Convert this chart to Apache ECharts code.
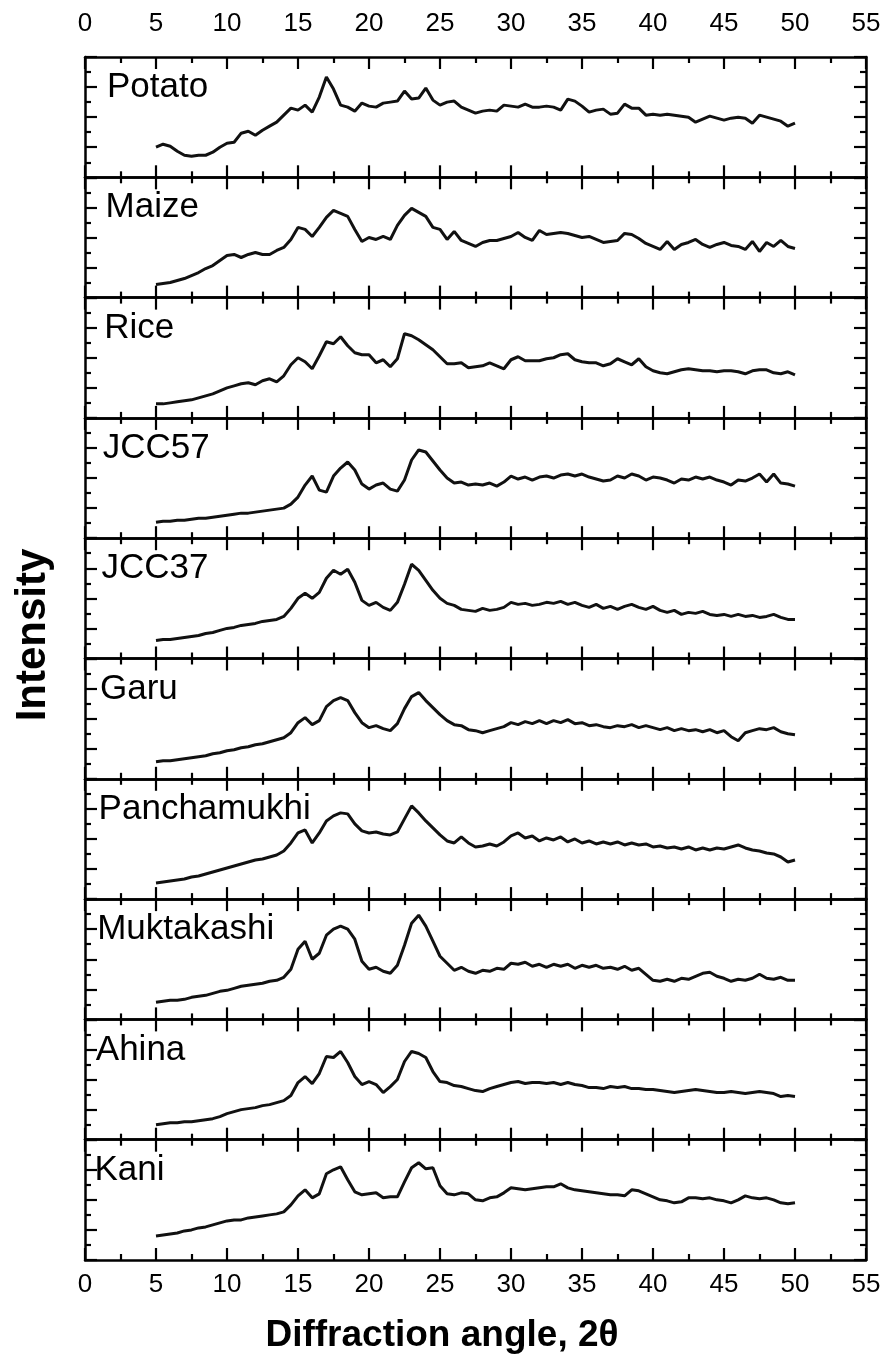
<!DOCTYPE html>
<html>
<head>
<meta charset="utf-8">
<script src="https://cdn.jsdelivr.net/npm/echarts@6/dist/echarts.min.js"></script>
<style>
html,body{margin:0;padding:0;background:#fff;}
#c{width:890px;height:1359px;}
</style>
</head>
<body>
<div id="c"></div>
<script>
// Diffraction angle, 2θ (degrees) – sampling positions of every pattern
const angles = [5,5.5,6,6.5,7,7.5,8,8.5,9,9.5,
  10,10.5,11,11.5,12,12.5,13,13.5,14,14.5,
  15,15.5,16,16.5,17,17.5,18,18.5,19,19.5,
  20,20.5,21,21.5,22,22.5,23,23.5,24,24.5,
  25,25.5,26,26.5,27,27.5,28,28.5,29,29.5,
  30,30.5,31,31.5,32,32.5,33,33.5,34,34.5,
  35,35.5,36,36.5,37,37.5,38,38.5,39,39.5,
  40,40.5,41,41.5,42,42.5,43,43.5,44,44.5,
  45,45.5,46,46.5,47,47.5,48,48.5,49,49.5,
  50];

const sampleNames = ['Potato','Maize','Rice','JCC57','JCC37','Garu','Panchamukhi','Muktakashi','Ahina','Kani'];

// Intensities (arbitrary units, panel scale 0–120)
const potato = [30,33,31,26,22,21,22,22,25,30,
  34,35,44,46,42,47,51,55,62,69,
  67,72,65,80,100,88,72,70,66,74,
  71,70,74,75,76,86,78,79,89,77,
  72,75,76,70,67,64,66,67,66,72,
  71,70,73,70,70,71,70,67,78,76,
  71,65,67,68,63,64,73,69,69,62,
  63,62,63,62,61,60,55,58,61,59,
  57,59,60,59,54,62,60,58,56,51,
  54];
const maize = [13,14,15,17,19,22,25,29,32,37,
  42,43,40,43,45,43,43,47,50,58,
  70,68,61,70,80,87,84,81,68,56,
  60,58,61,58,72,82,89,85,81,70,
  68,58,66,57,54,51,55,57,57,59,
  61,65,60,57,67,63,64,65,64,62,
  60,61,58,55,56,57,64,63,59,54,
  51,48,56,48,53,55,58,53,50,53,
  55,52,51,48,56,46,55,51,57,51,
  49];
const rice = [14,14,15,16,17,18,20,22,24,27,
  30,32,34,35,33,37,39,36,42,53,
  60,56,49,62,76,74,81,72,65,63,
  63,55,58,51,59,84,82,78,73,68,
  61,54,54,55,50,51,52,55,52,49,
  58,61,57,57,57,59,60,63,64,58,
  56,55,55,52,54,59,56,53,59,51,
  47,45,44,46,48,49,48,47,47,46,
  47,47,46,44,47,48,48,45,44,46,
  43];
const jcc57 = [16,17,17,18,18,19,20,20,21,22,
  23,24,25,25,26,27,28,29,30,34,
  41,53,62,48,46,62,70,76,68,54,
  49,53,55,49,47,58,78,88,86,77,
  68,60,55,56,53,54,53,55,52,56,
  62,59,61,58,61,62,60,63,64,62,
  64,61,59,57,58,62,60,64,62,58,
  61,60,58,55,59,58,61,59,61,58,
  56,53,58,57,60,64,56,64,55,54,
  52];
const jcc37 = [18,19,19,20,21,22,23,25,26,28,
  30,31,33,34,35,37,38,39,42,50,
  60,65,60,66,80,88,84,89,76,58,
  53,56,51,48,56,74,94,88,78,68,
  60,55,53,49,48,47,50,48,49,51,
  56,54,55,53,54,56,55,57,54,56,
  53,51,54,50,52,49,52,54,51,49,
  52,48,46,48,44,46,45,47,44,43,
  44,42,44,42,43,41,42,44,41,39,
  39];
const garu = [17,18,18,19,20,21,22,23,25,26,
  28,29,31,32,34,35,37,39,41,46,
  56,61,54,58,72,78,81,78,66,56,
  51,53,50,48,55,70,82,86,78,71,
  64,58,54,53,49,48,46,48,50,52,
  56,54,57,55,58,55,58,56,59,55,
  56,53,54,52,51,53,52,54,51,53,
  51,49,51,48,50,48,49,47,49,46,
  48,42,38,46,48,50,49,51,47,45,
  44];
const panchamukhi = [16,17,18,19,20,22,23,25,27,29,
  31,33,35,37,39,40,42,44,48,56,
  66,69,56,66,78,83,86,85,75,68,
  66,67,65,64,67,80,93,86,78,71,
  64,58,56,62,56,52,53,55,53,57,
  63,66,61,63,58,61,59,62,57,60,
  56,58,55,57,55,57,54,56,54,55,
  52,53,51,52,50,52,49,51,49,51,
  50,52,54,51,49,48,46,45,42,37,
  39];
const muktakashi = [17,18,19,19,20,22,23,24,26,28,
  29,31,33,34,35,36,38,39,42,50,
  70,78,60,66,84,90,93,90,80,58,
  50,52,48,46,54,74,96,104,93,78,
  63,56,49,52,48,46,49,48,51,50,
  56,55,57,53,55,52,55,53,55,51,
  54,52,54,51,52,50,53,49,51,45,
  39,38,40,38,41,40,43,46,47,43,
  41,38,40,39,41,45,41,40,42,39,
  39];
const ahina = [15,16,17,17,18,18,19,20,21,23,
  26,28,30,31,32,34,35,37,39,44,
  57,63,56,66,83,82,88,77,63,55,
  58,55,47,53,60,78,88,86,82,68,
  58,57,54,53,51,49,48,51,53,55,
  57,58,56,57,57,56,57,55,57,55,
  54,52,52,51,53,52,53,51,51,50,
  50,49,48,47,48,49,50,49,48,47,
  47,48,47,46,47,48,47,46,43,44,
  43];
const kani = [24,25,26,27,29,30,32,33,35,37,
  39,40,40,42,43,44,45,46,48,55,
  64,70,62,66,86,90,93,80,68,65,
  66,67,62,63,63,78,92,97,91,92,
  74,66,65,67,66,60,59,62,63,67,
  72,71,70,71,72,73,73,76,72,70,
  69,68,67,66,65,65,64,70,69,66,
  63,60,59,57,58,62,62,61,62,60,
  59,57,60,64,62,61,62,60,57,56,
  57];

const patterns = [potato, maize, rice, jcc57, jcc37, garu, panchamukhi, muktakashi, ahina, kani];

const xTitle = 'Diffraction angle, 2\u03b8';
const yTitle = 'Intensity';

const chart = echarts.init(document.getElementById('c'), null, {renderer: 'canvas'});
const FONT = '"Liberation Sans", Arial, Helvetica, sans-serif';
const L = 85, R = 24, TOP0 = 57, PH = 120.3;
const N = sampleNames.length;

const grids = [], xAxes = [], yAxes = [], series = [], graphics = [];

const axisLine = {show: true, onZero: false, lineStyle: {color: '#000', width: 2.5}};
const majorTick = {show: true, inside: true, length: 12, lineStyle: {color: '#000', width: 2.2}};
const minorTick = {show: true, splitNumber: 2, length: 6, lineStyle: {color: '#000', width: 2.2}};

function xAxis(i, pos, showLabel, margin) {
  return {
    gridIndex: i, type: 'value', position: pos, min: 0, max: 55, interval: 5,
    axisLine: axisLine, axisTick: majorTick, minorTick: minorTick,
    splitLine: {show: false}, minorSplitLine: {show: false},
    axisLabel: {show: showLabel, margin: margin, fontSize: 26, color: '#000', fontFamily: FONT,
      showMinLabel: true, showMaxLabel: true}
  };
}
function yAxis(i, pos) {
  return {
    gridIndex: i, type: 'value', position: pos, min: 0, max: 120, interval: 30,
    axisLine: axisLine, axisTick: majorTick, minorTick: minorTick,
    splitLine: {show: false}, minorSplitLine: {show: false},
    axisLabel: {show: false}
  };
}

for (let i = 0; i < N; i++) {
  const top = TOP0 + i * PH;
  grids.push({left: L, right: R, top: top, height: PH, containLabel: false});
  xAxes.push(xAxis(i, 'bottom', i === N - 1, 12));
  xAxes.push(xAxis(i, 'top', i === 0, 20));
  yAxes.push(yAxis(i, 'left'));
  yAxes.push(yAxis(i, 'right'));
  series.push({
    type: 'line', name: sampleNames[i],
    xAxisIndex: 2 * i, yAxisIndex: 2 * i,
    data: angles.map((a, k) => [a, patterns[i][k]]),
    showSymbol: false, symbol: 'none', smooth: false,
    lineStyle: {color: '#111', width: 3},
    silent: true, animation: false, z: 3
  });
  graphics.push({
    type: 'text', x: 107 - i * 1.4, y: top + 13, z: 10,
    style: {text: sampleNames[i], font: '35px ' + FONT, fill: '#000',
      textAlign: 'left', textVerticalAlign: 'top'}
  });
}

graphics.push({
  type: 'text', x: 442, y: 1336, z: 10,
  style: {text: xTitle, font: 'bold 37px ' + FONT, fill: '#000',
    textAlign: 'center', textVerticalAlign: 'middle'}
});
graphics.push({
  type: 'text', x: 33, y: 635, rotation: Math.PI / 2, z: 10,
  style: {text: yTitle, font: 'bold 42px ' + FONT, fill: '#000',
    textAlign: 'center', textVerticalAlign: 'middle'}
});

chart.setOption({
  animation: false,
  backgroundColor: '#fff',
  grid: grids,
  xAxis: xAxes,
  yAxis: yAxes,
  series: series,
  graphic: graphics
});
</script>
</body>
</html>
